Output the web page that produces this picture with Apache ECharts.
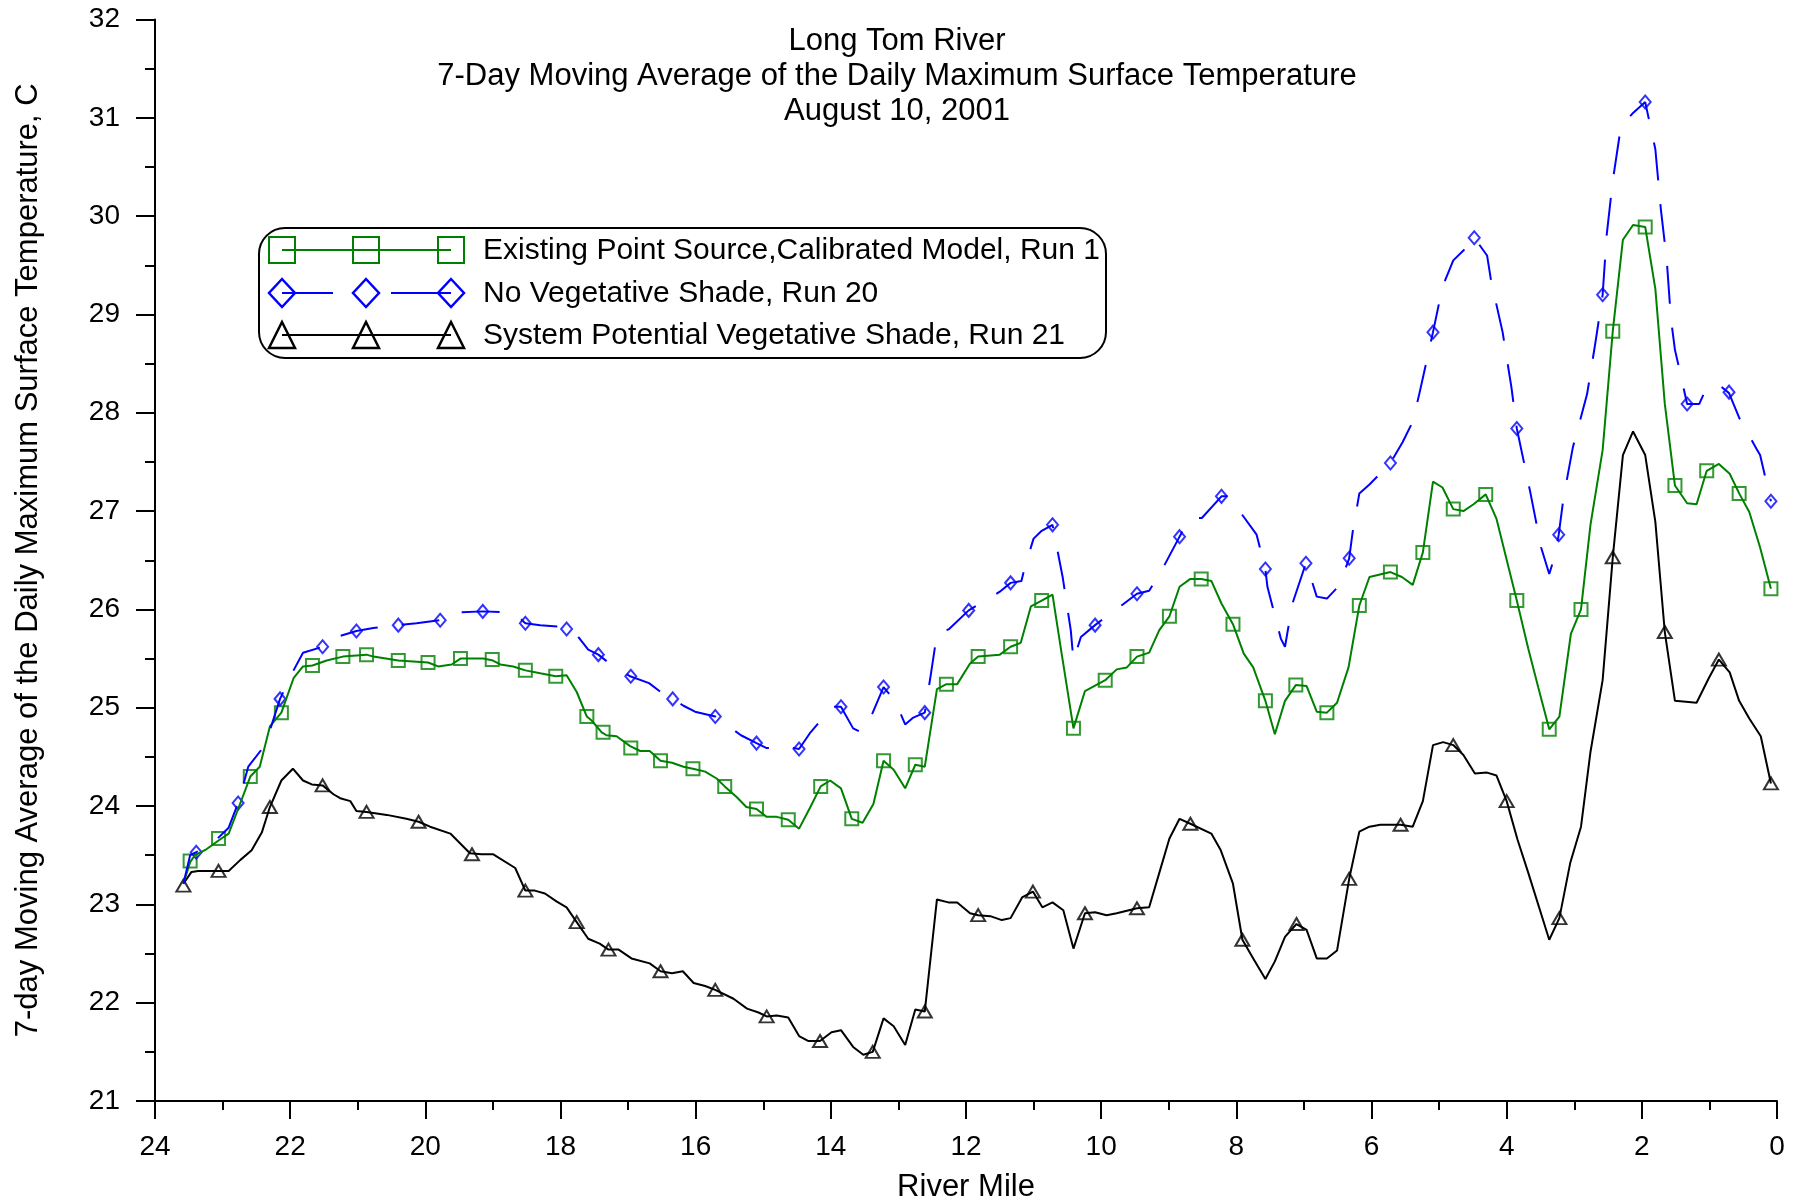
<!DOCTYPE html>
<html>
<head>
<meta charset="utf-8" />
<title>Long Tom River</title>
<script src="https://cdn.jsdelivr.net/npm/echarts@6/dist/echarts.min.js"></script>
<style>
    html, body { margin: 0; padding: 0; background: #fff; }
    #chart { width: 1803px; height: 1204px; }
</style>
</head>
<body>
<div id="chart"></div>
<script>
    // [river mile, temperature C]
    var run1Line = [[23.58,23.21],[23.48,23.43],[23.41,23.50],[23.24,23.56],[23.06,23.65],[22.91,23.72],[22.77,23.97],[22.59,24.30],[22.45,24.40],[22.30,24.81],[22.13,24.95],[21.95,25.30],[21.81,25.42],[21.67,25.43],[21.46,25.48],[21.22,25.52],[20.87,25.54],[20.77,25.52],[20.40,25.48],[19.96,25.46],[19.81,25.42],[19.61,25.44],[19.48,25.50],[19.14,25.50],[19.00,25.48],[18.89,25.44],[18.70,25.42],[18.52,25.38],[18.30,25.35],[18.07,25.32],[17.91,25.33],[17.76,25.16],[17.61,24.91],[17.54,24.87],[17.39,24.75],[17.32,24.72],[17.17,24.71],[16.97,24.61],[16.82,24.56],[16.68,24.56],[16.52,24.46],[16.35,24.44],[16.18,24.40],[16.04,24.38],[15.86,24.35],[15.69,24.28],[15.57,24.20],[15.39,24.09],[15.25,23.99],[15.10,23.97],[14.95,23.89],[14.80,23.89],[14.63,23.86],[14.47,23.77],[14.31,23.98],[14.15,24.20],[14.01,24.26],[13.85,24.18],[13.69,23.87],[13.53,23.83],[13.37,24.02],[13.22,24.46],[13.07,24.37],[12.90,24.18],[12.75,24.42],[12.61,24.40],[12.43,25.19],[12.29,25.24],[12.13,25.24],[11.94,25.45],[11.82,25.52],[11.50,25.54],[11.34,25.62],[11.19,25.66],[11.04,26.03],[10.88,26.09],[10.72,26.15],[10.58,25.53],[10.41,24.79],[10.24,25.17],[9.94,25.28],[9.77,25.39],[9.62,25.41],[9.47,25.52],[9.29,25.56],[9.14,25.79],[8.99,25.93],[8.84,26.23],[8.68,26.31],[8.52,26.31],[8.37,26.29],[8.22,26.06],[8.05,25.85],[7.89,25.55],[7.75,25.41],[7.57,25.07],[7.43,24.73],[7.28,25.07],[7.12,25.23],[6.96,25.22],[6.81,24.96],[6.66,24.95],[6.51,25.05],[6.34,25.41],[6.18,26.04],[6.03,26.33],[5.72,26.38],[5.55,26.33],[5.39,26.25],[5.24,26.58],[5.09,27.30],[4.95,27.24],[4.79,27.02],[4.64,27.00],[4.49,27.07],[4.31,27.17],[4.15,26.92],[3.85,26.09],[3.68,25.60],[3.53,25.20],[3.37,24.78],[3.22,24.91],[3.05,25.75],[2.90,26.00],[2.76,26.86],[2.58,27.62],[2.43,28.83],[2.28,29.76],[2.13,29.91],[1.95,29.89],[1.80,29.26],[1.66,28.09],[1.51,27.26],[1.33,27.08],[1.19,27.07],[1.04,27.41],[0.86,27.48],[0.70,27.38],[0.56,27.18],[0.41,26.99],[0.25,26.63],[0.09,26.21]];
    var run1Marks = [[23.48,23.44],[23.06,23.67],[22.59,24.30],[22.13,24.95],[21.67,25.43],[21.22,25.52],[20.87,25.54],[20.40,25.48],[19.96,25.46],[19.48,25.50],[19.01,25.49],[18.52,25.38],[18.07,25.32],[17.61,24.91],[17.37,24.75],[16.96,24.59],[16.52,24.46],[16.04,24.38],[15.57,24.20],[15.10,23.97],[14.63,23.86],[14.15,24.20],[13.69,23.87],[13.22,24.46],[12.75,24.42],[12.29,25.24],[11.82,25.52],[11.34,25.62],[10.88,26.09],[10.41,24.79],[9.94,25.28],[9.47,25.52],[8.99,25.93],[8.52,26.31],[8.05,25.85],[7.57,25.07],[7.12,25.23],[6.66,24.95],[6.18,26.04],[5.72,26.38],[5.24,26.58],[4.79,27.02],[4.31,27.17],[3.85,26.09],[3.37,24.78],[2.90,26.00],[2.43,28.83],[1.95,29.89],[1.51,27.26],[1.04,27.41],[0.56,27.18],[0.09,26.21]];

    var run20Line = [[23.58,23.21],[23.48,23.50],[23.39,23.53],[23.09,23.66],[22.91,23.78],[22.77,24.03],[22.62,24.40],[22.44,24.56],[22.30,24.77],[22.15,25.09],[21.95,25.38],[21.81,25.56],[21.52,25.62],[21.26,25.73],[21.02,25.78],[20.77,25.81],[20.40,25.84],[20.13,25.86],[19.78,25.89],[19.51,25.97],[19.15,25.98],[18.70,25.97],[18.52,25.86],[18.30,25.84],[17.96,25.82],[17.76,25.74],[17.59,25.59],[17.44,25.54],[17.22,25.42],[16.97,25.32],[16.69,25.25],[16.50,25.15],[16.34,25.09],[16.18,25.02],[16.01,24.96],[15.71,24.91],[15.33,24.72],[15.10,24.64],[14.95,24.59],[14.63,24.60],[14.47,24.58],[14.30,24.75],[14.06,24.94],[13.98,25.01],[13.85,25.01],[13.67,24.79],[13.55,24.75],[13.38,24.95],[13.22,25.21],[13.05,25.07],[12.90,24.83],[12.78,24.90],[12.61,24.95],[12.52,25.34],[12.43,25.75],[12.25,25.80],[11.96,25.99],[11.69,26.10],[11.50,26.18],[11.34,26.27],[11.18,26.29],[11.13,26.43],[11.00,26.72],[10.88,26.80],[10.72,26.86],[10.57,26.33],[10.45,25.79],[10.41,25.48],[10.30,25.72],[10.09,25.84],[9.88,25.95],[9.68,26.05],[9.47,26.16],[9.29,26.19],[9.11,26.39],[8.84,26.74],[8.73,26.88],[8.66,26.93],[8.51,26.93],[8.22,27.15],[8.11,27.15],[7.90,26.95],[7.70,26.76],[7.57,26.41],[7.54,26.23],[7.34,25.70],[7.28,25.62],[7.17,26.06],[6.97,26.47],[6.92,26.37],[6.81,26.13],[6.66,26.11],[6.48,26.24],[6.33,26.52],[6.28,26.78],[6.18,27.18],[6.03,27.27],[5.72,27.49],[5.54,27.70],[5.39,27.91],[5.29,28.20],[5.09,28.82],[4.95,29.28],[4.79,29.55],[4.64,29.65],[4.48,29.78],[4.29,29.60],[4.23,29.34],[4.06,28.82],[3.93,28.26],[3.85,27.84],[3.65,27.19],[3.49,26.63],[3.37,26.36],[3.28,26.56],[3.23,26.76],[3.16,27.13],[3.02,27.65],[2.81,28.19],[2.69,28.70],[2.58,29.20],[2.52,29.81],[2.43,30.36],[2.31,30.91],[2.13,31.05],[1.95,31.16],[1.80,30.68],[1.72,30.08],[1.63,29.54],[1.57,28.96],[1.51,28.64],[1.44,28.43],[1.33,28.09],[1.15,28.09],[1.04,28.26],[0.85,28.28],[0.71,28.20],[0.56,27.95],[0.30,27.63],[0.25,27.57],[0.09,27.10]];
    var run20Marks = [[23.39,23.53],[22.77,24.03],[22.15,25.09],[21.52,25.62],[21.02,25.78],[20.40,25.84],[19.78,25.89],[19.15,25.98],[18.52,25.86],[17.91,25.80],[17.44,25.54],[16.96,25.32],[16.34,25.09],[15.71,24.91],[15.10,24.64],[14.47,24.58],[13.85,25.01],[13.22,25.21],[12.61,24.95],[11.96,25.99],[11.34,26.27],[10.72,26.86],[10.09,25.84],[9.47,26.16],[8.84,26.74],[8.22,27.15],[7.57,26.41],[6.97,26.47],[6.33,26.52],[5.72,27.49],[5.09,28.82],[4.48,29.78],[3.85,27.84],[3.23,26.76],[2.58,29.20],[1.95,31.16],[1.33,28.09],[0.71,28.21],[0.09,27.10]];

    var run21Line = [[23.58,23.21],[23.46,23.33],[23.36,23.34],[22.91,23.34],[22.74,23.45],[22.57,23.55],[22.42,23.73],[22.30,23.99],[22.13,24.26],[21.96,24.38],[21.81,24.26],[21.68,24.22],[21.52,24.21],[21.36,24.12],[21.26,24.08],[21.11,24.05],[21.02,23.95],[20.87,23.94],[20.57,23.91],[20.28,23.87],[20.10,23.84],[19.93,23.79],[19.63,23.72],[19.34,23.52],[19.17,23.51],[19.00,23.51],[18.67,23.37],[18.52,23.14],[18.38,23.14],[18.23,23.11],[18.06,23.03],[17.91,22.97],[17.76,22.82],[17.59,22.65],[17.42,22.60],[17.29,22.54],[17.14,22.54],[16.95,22.45],[16.68,22.40],[16.52,22.32],[16.35,22.30],[16.19,22.32],[16.03,22.20],[15.86,22.17],[15.71,22.13],[15.44,22.04],[15.24,21.94],[15.07,21.90],[14.95,21.86],[14.80,21.87],[14.63,21.85],[14.47,21.66],[14.33,21.61],[14.16,21.61],[13.99,21.70],[13.85,21.72],[13.67,21.55],[13.52,21.47],[13.38,21.50],[13.22,21.84],[13.07,21.76],[12.90,21.57],[12.75,21.93],[12.61,21.91],[12.43,23.05],[12.26,23.02],[12.13,23.02],[11.94,22.91],[11.82,22.89],[11.64,22.88],[11.47,22.84],[11.34,22.86],[11.17,23.07],[11.01,23.13],[10.87,22.97],[10.72,23.02],[10.56,22.94],[10.41,22.55],[10.24,22.91],[10.09,22.92],[9.92,22.89],[9.77,22.91],[9.47,22.96],[9.29,22.97],[9.14,23.32],[8.99,23.67],[8.84,23.87],[8.68,23.82],[8.37,23.72],[8.23,23.55],[8.05,23.21],[7.91,22.64],[7.75,22.45],[7.57,22.24],[7.43,22.42],[7.28,22.67],[7.11,22.80],[6.96,22.74],[6.81,22.45],[6.66,22.45],[6.51,22.53],[6.33,23.26],[6.18,23.74],[6.03,23.79],[5.87,23.81],[5.57,23.81],[5.39,23.79],[5.24,24.05],[5.09,24.62],[4.94,24.65],[4.79,24.62],[4.64,24.52],[4.47,24.33],[4.29,24.34],[4.15,24.31],[4.00,24.05],[3.84,23.66],[3.68,23.32],[3.37,22.64],[3.22,22.86],[3.06,23.42],[2.90,23.79],[2.76,24.55],[2.58,25.28],[2.43,26.53],[2.28,27.57],[2.13,27.81],[1.95,27.57],[1.80,26.89],[1.66,25.77],[1.51,25.07],[1.19,25.05],[1.01,25.30],[0.86,25.49],[0.70,25.36],[0.56,25.07],[0.41,24.89],[0.24,24.71],[0.09,24.23]];
    var run21Marks = [[23.58,23.19],[23.06,23.34],[22.30,23.99],[21.52,24.21],[20.87,23.94],[20.10,23.84],[19.31,23.51],[18.52,23.14],[17.76,22.82],[17.29,22.54],[16.52,22.32],[15.71,22.13],[14.95,21.86],[14.16,21.61],[13.38,21.50],[12.61,21.91],[11.82,22.89],[11.01,23.13],[10.24,22.91],[9.47,22.96],[8.68,23.82],[7.91,22.64],[7.11,22.80],[6.33,23.26],[5.57,23.81],[4.79,24.62],[4.00,24.05],[3.22,22.86],[2.43,26.53],[1.66,25.77],[0.86,25.49],[0.09,24.23]];

    var titleLines = ['Long Tom River', '7-Day Moving Average of the Daily Maximum Surface Temperature', 'August 10, 2001'];
    var seriesNames = ['Existing Point Source,Calibrated Model, Run 1', 'No Vegetative Shade, Run 20', 'System Potential Vegetative Shade, Run 21'];

    var font = '"Liberation Sans", Arial, sans-serif';
    var GREEN = '#008000', BLUE = '#0000ff', BLACK = '#000000';
    var HOLLOW = 'rgba(0,0,0,0)';

    // legend box drawn by hand: line with three hollow markers per row
    var legendX = [282, 366, 451];
    function marker(kind, cx, cy, color) {
        var s = 13;
        if (kind === 'rect') {
            return { type: 'rect', shape: { x: cx - s, y: cy - s, width: 2 * s, height: 2 * s },
                style: { fill: null, stroke: color, lineWidth: 2 } };
        }
        var pts = kind === 'diamond'
            ? [[cx, cy - s - 1], [cx + s, cy], [cx, cy + s + 1], [cx - s, cy]]
            : [[cx, cy - s], [cx + s, cy + s], [cx - s, cy + s]];
        return { type: 'polygon', shape: { points: pts }, style: { fill: null, stroke: color, lineWidth: 2.5 } };
    }
    function legendRow(i, y, color, kind, segs) {
        var items = [];
        segs.forEach(function (sg) {
            items.push({ type: 'line', shape: { x1: sg[0], y1: y, x2: sg[1], y2: y }, style: { stroke: color, lineWidth: 2 } });
        });
        legendX.forEach(function (x) { items.push(marker(kind, x, y, color)); });
        items.push({ type: 'text', style: { text: seriesNames[i], x: 483, y: y + 1, fill: '#000',
            font: '30px ' + font, verticalAlign: 'middle' } });
        return items;
    }
    var legendItems = [{ type: 'rect', shape: { x: 259, y: 228, width: 847, height: 130, r: 26 },
        style: { fill: '#fff', stroke: '#000', lineWidth: 2 } }]
        .concat(legendRow(0, 250, GREEN, 'rect', [[282, 451]]))
        .concat(legendRow(1, 293, BLUE, 'diamond', [[282, 333], [391, 451]]))
        .concat(legendRow(2, 335, BLACK, 'triangle', [[282, 451]]));

    var tickText = { color: '#000', fontSize: 28, fontFamily: font };
    var nameText = { color: '#000', fontSize: 31, fontFamily: font };

    var myChart = echarts.init(document.getElementById('chart'));
    myChart.setOption({
        animation: false,
        backgroundColor: '#fff',
        title: {
            text: titleLines.join('\n'),
            left: 892,
            top: 19,
            textAlign: 'center',
            textStyle: { fontSize: 31, fontWeight: 'normal', fontFamily: font, color: '#000', lineHeight: 35 }
        },
        // fixed plot box; keep v6 from shrinking it to fit the axis names
        grid: { left: 155, right: 26, top: 19.5, bottom: 103, outerBoundsMode: 'none', containLabel: false },
        xAxis: {
            type: 'value',
            inverse: true,
            min: 0,
            max: 24,
            interval: 2,
            name: 'River Mile',
            nameLocation: 'middle',
            nameGap: 71,
            nameTextStyle: nameText,
            axisLine: { onZero: false, lineStyle: { color: '#000', width: 2 } },
            axisTick: { length: 18, lineStyle: { color: '#000', width: 2 } },
            minorTick: { show: true, splitNumber: 2, length: 9, lineStyle: { color: '#000', width: 2 } },
            axisLabel: Object.assign({ margin: 32 }, tickText),
            splitLine: { show: false }
        },
        yAxis: {
            type: 'value',
            position: 'left',
            min: 21,
            max: 32,
            interval: 1,
            name: '7-day Moving Average of the Daily Maximum Surface Temperature, C',
            nameLocation: 'middle',
            nameGap: 111,
            nameTextStyle: nameText,
            axisLine: { show: true, onZero: false, lineStyle: { color: '#000', width: 2 } },
            axisTick: { show: true, length: 19, lineStyle: { color: '#000', width: 2 } },
            minorTick: { show: true, splitNumber: 2, length: 10, lineStyle: { color: '#000', width: 2 } },
            axisLabel: Object.assign({ margin: 35 }, tickText),
            splitLine: { show: false }
        },
        graphic: [{ type: 'group', silent: true, z: 100, children: legendItems }],
        series: [{
            type: 'line', data: run21Line, showSymbol: false, symbol: 'none', silent: true,
            lineStyle: { color: BLACK, width: 2 }
        }, {
            type: 'scatter', data: run21Marks, symbol: 'triangle', symbolSize: [14, 12], silent: true,
            itemStyle: { color: HOLLOW, borderColor: BLACK, borderWidth: 2 }
        }, {
            type: 'line', data: run1Line, showSymbol: false, symbol: 'none', silent: true,
            lineStyle: { color: GREEN, width: 2 }
        }, {
            type: 'scatter', data: run1Marks, symbol: 'rect', symbolSize: 13, silent: true,
            itemStyle: { color: HOLLOW, borderColor: GREEN, borderWidth: 2 }
        }, {
            type: 'line', data: run20Line, showSymbol: false, symbol: 'none', silent: true,
            lineStyle: { color: BLUE, width: 2, type: [38, 24] }
        }, {
            type: 'scatter', data: run20Marks, symbol: 'diamond', symbolSize: [11, 13], silent: true,
            itemStyle: { color: HOLLOW, borderColor: BLUE, borderWidth: 2 }
        }]
    });
</script>
</body>
</html>
